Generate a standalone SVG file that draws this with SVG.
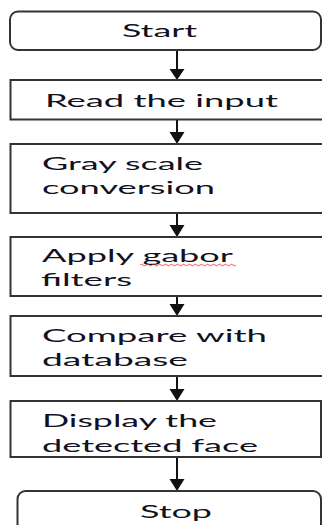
<svg xmlns="http://www.w3.org/2000/svg" width="322" height="525" viewBox="0 0 322 525">
  <style>
    .box { fill: #ffffff; stroke: #333333; stroke-width: 2; }
    .lbl { font-family: Lato, "Open Sans", "Liberation Sans", sans-serif; font-size: 17px; fill: #111122; }
    .conn { stroke: #111111; stroke-width: 2; fill: none; }
    .head { fill: #111111; }
  </style>

  <rect width="322" height="525" fill="#ffffff"/>

  <!-- connectors: vertical shaft plus filled triangular head -->
  <g id="connectors">
    <line class="conn" x1="177" y1="50" x2="177" y2="70"/>
    <polygon class="head" points="169.5,69 184.5,69 177,80"/>
    <line class="conn" x1="177" y1="120" x2="177" y2="133"/>
    <polygon class="head" points="169.5,132 184.5,132 177,144"/>
    <line class="conn" x1="177" y1="213" x2="177" y2="226"/>
    <polygon class="head" points="169.5,225 184.5,225 177,237"/>
    <line class="conn" x1="177" y1="296" x2="177" y2="305"/>
    <polygon class="head" points="169.5,304 184.5,304 177,316"/>
    <line class="conn" x1="177" y1="376" x2="177" y2="390"/>
    <polygon class="head" points="169.5,389 184.5,389 177,401"/>
    <line class="conn" x1="177" y1="457" x2="177" y2="480"/>
    <polygon class="head" points="169.5,479 184.5,479 177,491"/>
  </g>

  <g id="start">
    <rect class="box" x="10" y="11.5" width="311" height="38.5" rx="8"/>
    <text class="lbl" x="122" y="37" textLength="75" lengthAdjust="spacingAndGlyphs">Start</text>
  </g>

  <g id="read">
    <rect class="box" x="10.5" y="80" width="320" height="39.5"/>
    <text class="lbl" x="45" y="107" textLength="233" lengthAdjust="spacingAndGlyphs">Read the input</text>
  </g>

  <g id="gray">
    <rect class="box" x="10.5" y="144" width="320" height="69"/>
    <text class="lbl" x="42" y="170" textLength="161" lengthAdjust="spacingAndGlyphs">Gray scale</text>
    <text class="lbl" x="42" y="194" textLength="173" lengthAdjust="spacingAndGlyphs">conversion</text>
  </g>

  <g id="gabor">
    <rect class="box" x="10.5" y="237" width="320" height="59"/>
    <text class="lbl" x="42" y="262" textLength="191" lengthAdjust="spacingAndGlyphs">Apply gabor</text>
    <text class="lbl" x="41" y="286" textLength="91" lengthAdjust="spacingAndGlyphs">filters</text>
    <!-- spell-check squiggle under "gabor" -->
    <path d="M140,265 q1.5,-1.5 3,0 t3,0 t3,0 t3,0 t3,0 t3,0 t3,0 t3,0 t3,0 t3,0 t3,0 t3,0 t3,0 t3,0 t3,0 t3,0 t3,0 t3,0 t3,0 t3,0 t3,0 t3,0 t3,0 t3,0 t3,0 t3,0 t3,0 t3,0 t3,0 t3,0 t3,0 t3,0" fill="none" stroke="#e03030" stroke-width="0.8"/>
  </g>

  <g id="compare">
    <rect class="box" x="10.5" y="316" width="320" height="60"/>
    <text class="lbl" x="42" y="342" textLength="225" lengthAdjust="spacingAndGlyphs">Compare with</text>
    <text class="lbl" x="42" y="366" textLength="146" lengthAdjust="spacingAndGlyphs">database</text>
  </g>

  <g id="display">
    <rect class="box" x="10.5" y="401" width="310.5" height="56"/>
    <text class="lbl" x="42" y="427" textLength="175" lengthAdjust="spacingAndGlyphs">Display the</text>
    <text class="lbl" x="42" y="452" textLength="216" lengthAdjust="spacingAndGlyphs">detected face</text>
  </g>

  <g id="stop">
    <rect class="box" x="17.5" y="491" width="303.5" height="50" rx="8"/>
    <text class="lbl" x="140" y="518" textLength="72" lengthAdjust="spacingAndGlyphs">Stop</text>
  </g>
</svg>
